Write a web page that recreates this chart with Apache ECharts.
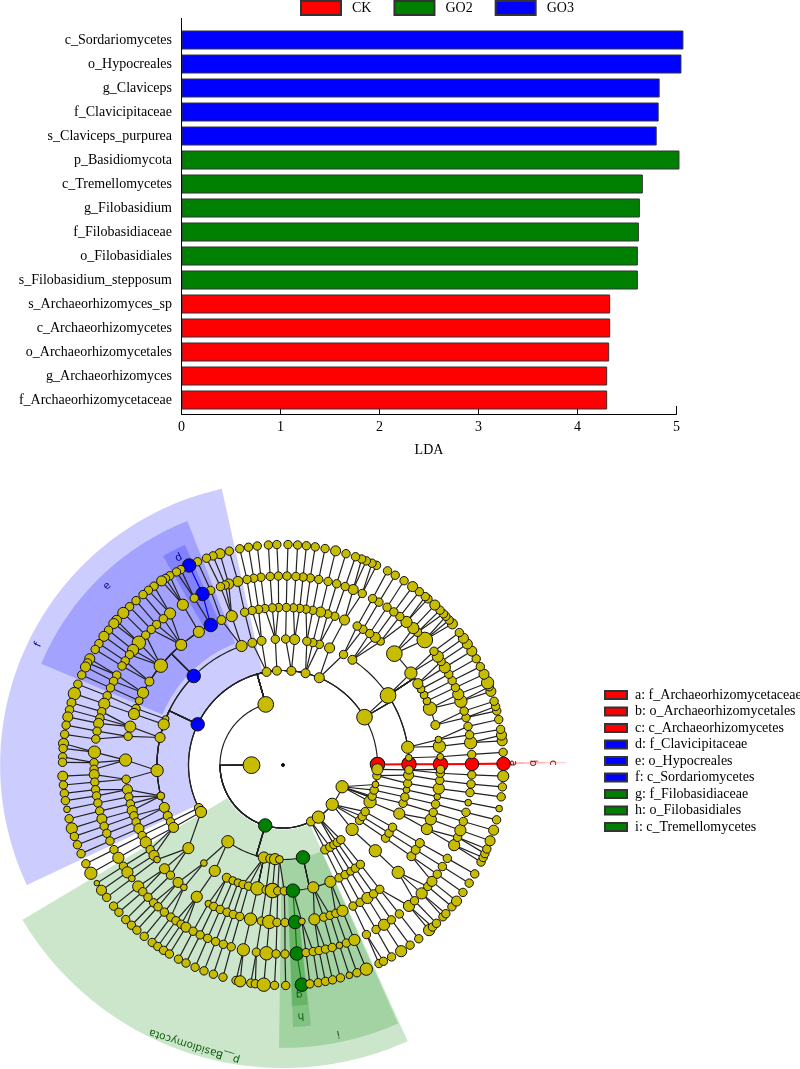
<!DOCTYPE html>
<html><head><meta charset="utf-8">
<style>html,body{margin:0;padding:0;background:#fff}#c{width:800px;height:1069px}</style>
<script src="https://cdn.jsdelivr.net/npm/echarts@6/dist/echarts.min.js"></script>
</head><body><div id="c"></div>
<script>
const categories=['c_Sordariomycetes','o_Hypocreales','g_Claviceps','f_Clavicipitaceae','s_Claviceps_purpurea','p_Basidiomycota','c_Tremellomycetes','g_Filobasidium','f_Filobasidiaceae','o_Filobasidiales','s_Filobasidium_stepposum','s_Archaeorhizomyces_sp','c_Archaeorhizomycetes','o_Archaeorhizomycetales','g_Archaeorhizomyces','f_Archaeorhizomycetaceae'];
const ldaGO3=[5.07,5.05,4.83,4.82,4.80,null,null,null,null,null,null,null,null,null,null,null];
const ldaGO2=[null,null,null,null,null,5.03,4.66,4.63,4.62,4.61,4.61,null,null,null,null,null];
const ldaCK=[null,null,null,null,null,null,null,null,null,null,null,4.33,4.33,4.32,4.30,4.30];
const xTicks=[0,1,2,3,4,5];
const biomarkers=['a: f_Archaeorhizomycetaceae','b: o_Archaeorhizomycetales','c: c_Archaeorhizomycetes','d: f_Clavicipitaceae','e: o_Hypocreales','f: c_Sordariomycetes','g: f_Filobasidiaceae','h: o_Filobasidiales','i: c_Tremellomycetes'];
const biomarkerColors=['#ff0000','#ff0000','#ff0000','#0000ff','#0000ff','#0000ff','#008000','#008000','#008000'];

// Cladogram nodes: angle (degrees) or [angle, diameter, parentAngle]
const ring1=[[180.3,15]];
const ring2=[[105.9,14,180.3],[253.6,12,180.3],[296.3,8,180.3],[304.2,11,180.3],[321.4,11,180.3],[339.8,11,180.3]];
const ring3=[[0.3,13,105.9],[30.4,14,105.9],[67.4,9,105.9],[76.2,8,105.9],[84.9,8,105.9],[93.7,8,105.9],[100,8,105.9],[154.5,12,105.9],[207,8,105.9],[209.8,10,105.9],[234.3,11,253.6],[258.3,10,253.6],[262.2,8,253.6],[265.2,10,253.6],[267.8,7,253.6],[282.2,12,253.6],[296.5,8],[299.9,8],302.6,305,307.7,[317,11],324.1,327,330.4,[337.1,11],340.7,344.6,[348.1,6],353.5,[357.4,10]];
const ring4=[[0.3,13],[3.3,6,30.4],[8.1,11,30.4],[33.5,14],[56.6,8,30.4],61.3,[68.3,9],73.2,76.3,79.1,[84.7,9],88.8,93.5,[99.8,8],[104.1,8],[109.2,10,154.5],[135.1,12,154.5],[158.6,6,154.5],[161.2,10,154.5],[167.4,9,154.5],[182.5,11,154.5],[194.2,7,154.5],[199.7,9,154.5],[203.8,8,154.5],206.8,[209.7,9],[221.3,10],[231.1,6],[237.2,10],[243.5,8,258.3],[246.5,7,258.3],[249.1,7,258.3],251.5,254.1,[258.3,12],262.3,[265.2,13],267.6,270.6,[274.5,12,282.2],[283.9,10,282.2],[292.1,10,282.2],296.4,299.5,[302.4,7],305,307.9,[317.1,11],324.5,327.3,330.4,[337.3,10],342.3,345.3,[348.6,6],351.6,[355.4,9],357.8];
const ring5=[[0.3,13],[3,6],[6.8,11],[9.3,6],[14.7,8,33.5],[21,12,33.5],[24,7,33.5],[26.4,7,33.5],[28.8,7,33.5],[31.1,9,33.5],[35.7,11],[45,14,33.5],[51.7,7],[54.1,9],56.6,59.5,61.9,[67,9],70.8,73.5,[76.2,9],79.1,81.6,83.9,86.2,88.8,91.6,93.9,96.6,98.9,101.3,104.1,[109,10],[113,8],[117.3,12,135.1],[122.3,10,135.1],[130.3,10,135.1],[140.9,12,135.1],[148,8,135.1],[152.7,10,135.1],[155.9,7,135.1],159,[161.1,10],[165.9,10],169.5,[178.2,11],185.2,[189,9],191.7,194.3,[196.8,9],198.8,201.2,[203.8,9],206.6,[209.4,10],212.5,[215,9],[216.9,6],[221.2,9],224.4,[228.2,9],[231,6],[236.8,10],[241.7,6],243.9,246.5,249.2,251.6,254.1,[258.1,11],262.1,[265,12],267.8,270.7,[274.4,12],[276.9,6],[281.5,10],285,287.4,289.6,[292.2,10],296.4,299.3,[302.4,10],305.1,307.9,[317,11],[324.6,8],[327.4,8],[330.3,8],[336,10],[339.8,10],342.5,345.6,[348.4,6],[351.4,10],354.4,357,358.4];
const ring6=[[0.3,12],3.2,[6.8,11],9.2,11.8,14.5,16.6,[19.7,11],[22,10],24.2,26.5,28.7,[31.1,10],33.2,[35,10],37,[41.4,14],44.6,[46.4,10],[49.2,10],51.8,54.1,56.6,59.5,61.7,65.2,[68.2,9],70.8,73.5,76.2,79.1,81.7,83.9,86.1,88.8,91.4,93.9,96.7,98.9,101,[103.8,9],[106.7,9],107.8,109.3,112.5,[115.2,12],118,[122,10],[126.7,10],129.3,132,134.2,136.6,[139.7,12],[142.5,10],144.3,146.6,148.4,151.6,153.7,155.9,158.5,[161.1,10],163.6,165.6,[167.3,9],169.7,172.1,[176.1,11],179.3,181.3,[182.9,9],185.2,187.5,189.4,191.6,194.1,[196.6,9],198.9,201.2,203.7,206.6,[209.4,10],212.4,[214.6,10],[216.9,6],[220,10],222.1,224.4,226.8,228.6,231.1,233.6,235.5,237.4,[239.1,9],241.6,244,246.5,249.1,251.6,254.1,[257.9,11],261.9,[265,12],267.9,270.6,[274.2,12],277,279.2,281,283,285.1,[287.4,6],289.6,[292.2,10],296.2,299.5,[302.3,10],305,308,[311.8,10],314.1,[317.2,10],320,[322,9],324.7,327.5,330.4,[334.9,10],337.5,[339.8,10],342.6,345.5,[348.5,6],351.6,354.2,357];
const ring7=[[0.3,12],3.3,[6.3,9],[7.8,9],9.3,11.9,14.2,15.4,16.8,[19.5,9],20.8,[21.9,11],[24.3,9],26.5,28.8,[31.1,9],[33.3,9],[35.1,9],36.9,[39.8,9],41.1,42.4,43.3,44.6,[46.5,9],48.9,49.8,51.8,[54,9],56.7,59.4,61.7,64.9,66.2,67.8,69.1,70.8,73.4,[76.2,9],79,81.6,83.9,86.2,88.7,91.6,93.8,96.7,99,101.3,104.1,[106.6,9],108.5,110.3,112.8,[115.2,12],117.6,118.9,120.9,122.2,[123.4,9],125.8,127.6,129.4,131.8,134.1,[136.4,10],[139,9],[140.1,9],142.3,[144.3,9],146.6,148.4,[151.2,9],152.4,[153.6,9],155.9,158.5,[161.1,11],[163.6,8],165.5,[167.4,9],169.6,172,[174.4,9],175.7,177.9,179.3,[182.9,9],185.2,187.4,189.3,[191.6,6],194.1,[196.7,10],198.9,201.2,203.7,206.6,[209.4,11],[212.4,5],[214.6,9],216.9,219.8,221.9,224.5,226.6,228.5,231,233.6,235.4,237.2,239,241.7,243.9,246.5,249,251.6,254.2,257.7,[258.8,10],261.6,262.8,[265,12],267.8,270.7,[274.9,12],277,279.2,281.1,283,285.1,[287.5,6],289.6,[292.2,11],295.8,297.1,299.5,[302.4,10],305.2,308,[311.5,10],312.7,314.1,316.5,317.6,320,[321.9,9],324.7,327.6,330.4,333.9,335.2,336.3,337.6,[339.9,9],[342.8,9],345.6,[348.6,6],351.7,354.3,[357.1,10]];
const rings=[ring1,ring2,ring3,ring4,ring5,ring6,ring7];

// Coloured paths: [level, angle]
const redPath=[[3,0.3],[4,0.3],[5,0.3],[6,0.3],[7,0.3]];
const bluePath=[[3,154.5],[4,135.1],[5,117.3],[6,115.2],[7,115.2]];
const greenPath=[[2,253.6],[3,282.2],[4,274.5],[5,274.4],[6,274.2],[7,274.9]];

// Clade sectors: inner level, outer level, from angle, to angle
const cladeNames=['p__Basidiomycota','f','e','d','i','h','g','c','b','a'];
const cladeInner=[2.05,3,4.15,5.1,3,4.1,5.1,3,4.1,5.1];
const cladeOuter=[9.62,8.98,8.32,7.65,8.98,8.32,7.65,8.98,8.32,7.65];
const cladeFrom=[210.7,102.5,111.4,114,269.2,272.2,272.1,0.35,0.35,0.35];
const cladeTo=[294.3,205.1,157.3,119.9,294,276.1,275.9,0.62,0.62,0.62];
const cladeFill=['rgba(0,128,0,.2)','rgba(0,0,255,.2)','rgba(0,0,255,.2)','rgba(0,0,255,.2)','rgba(0,128,0,.2)','rgba(0,128,0,.2)','rgba(0,128,0,.2)','rgba(255,0,0,.2)','rgba(255,0,0,.2)','rgba(255,0,0,.2)'];
const cladeLabelLevel=[9.36,8.66,7.97,7.36,8.7,7.99,7.3,8.57,7.94,7.3];
const cladeLabelAngle=[252.5,153.9,134.5,116.7,281.6,274.1,274,0.45,0.45,0.45];
const cladeLabelColor=['#0b5d0b','#00008b','#00008b','#00008b','#0b5d0b','#0b5d0b','#0b5d0b','#8b0000','#8b0000','#8b0000'];

const YELLOW='#c8bc00',COL=[YELLOW,'#ff0000','#0000ff','#008000','#000000'];
const angDiff=(a,b)=>{let d=Math.abs(a-b)%360;return d>180?360-d:d;};
const norm=n=>Array.isArray(n)?n:[n,7.5];
const matches=(path,l,a)=>path.findIndex(p=>p[0]===l&&p[1]===a)>=0;
const colorOf=(l,a)=>matches(redPath,l,a)?1:matches(bluePath,l,a)?2:matches(greenPath,l,a)?3:0;
const edgeStart={1:4,2:6,3:5};
const nodes=[[0,0,3,4]],edges=[];
rings.forEach((ring,i)=>{
  const l=i+1;
  ring.forEach(n=>{
    const [a,s,pa]=norm(n);
    const c=colorOf(l,a);
    nodes.push([l,a,s,c]);
    if(l===1)return;
    let parent=pa,over=pa!==undefined;
    if(!over){
      parent=rings[i-1].map(x=>norm(x)[0]).reduce((b,x)=>angDiff(x,a)<angDiff(b,a)?x:b);
    }
    const elbow=over||angDiff(parent,a)>12?1:0;
    const ec=(c&&colorOf(l-1,parent)===c&&l>=edgeStart[c])?c:0;
    edges.push([l,a,l-1,parent,elbow,ec]);
  });
});
const cladeData=cladeNames.map((_,i)=>[cladeInner[i],cladeFrom[i],cladeOuter[i],cladeTo[i],i]);

function renderEdge(p,api){
  const l=api.value(0),a=api.value(1),pl=api.value(2),pa=api.value(3),el=api.value(4),c=api.value(5);
  const pts=[api.coord([pl,pa])];
  if(el){
    pts.push(api.coord([l,pa]));
    let d=a-pa; if(d>180)d-=360; if(d<-180)d+=360;
    const n=Math.max(2,Math.ceil(Math.abs(d)/1.5));
    for(let k=1;k<=n;k++)pts.push(api.coord([l,pa+d*k/n]));
  } else pts.push(api.coord([l,a]));
  return {type:'polyline',shape:{points:pts},style:{fill:null,stroke:c?COL[c]:'#222',lineWidth:c===1?2:1.2}};
}
function renderClade(p,api){
  const r0=api.value(0),a0=api.value(1),r1=api.value(2),a1=api.value(3),i=api.value(4);
  const pts=[],n=Math.max(2,Math.ceil((a1-a0)));
  for(let k=0;k<=n;k++)pts.push(api.coord([r1,a0+(a1-a0)*k/n]));
  for(let k=n;k>=0;k--)pts.push(api.coord([r0,a0+(a1-a0)*k/n]));
  const lp=api.coord([cladeLabelLevel[i],cladeLabelAngle[i]]);
  return {type:'group',children:[
    {type:'polygon',shape:{points:pts},style:{fill:cladeFill[i],stroke:null}},
    {type:'text',x:lp[0],y:lp[1],rotation:(cladeLabelAngle[i]-90)*Math.PI/180,z2:5,
     style:{text:cladeNames[i],fill:cladeLabelColor[i],textAlign:'center',textVerticalAlign:'middle',font:'10.5px "DejaVu Sans"'}}
  ]};
}
const serif='"Liberation Serif"';
const barSeries=(name,data,color)=>({name,type:'bar',stack:'lda',data,barWidth:19,clip:false,xAxisIndex:0,yAxisIndex:0,silent:true,
  itemStyle:{color,borderColor:'#333',borderWidth:1},animation:false});
const chart=echarts.init(document.getElementById('c'),null,{renderer:'canvas'});
chart.setOption({
  animation:false,
  backgroundColor:'#fff',
  graphic:[{type:'line',shape:{x1:181.5,y1:18,x2:181.5,y2:414},style:{stroke:'#000',lineWidth:1},z:10}],
  legend:[
    {data:['CK','GO2','GO3'],left:300,top:0,padding:0,itemWidth:40,itemHeight:14,itemGap:22,selectedMode:false,icon:'rect',
     textStyle:{fontFamily:serif,fontSize:14,color:'#000',padding:[0,0,0,6]}},
    {data:biomarkers,orient:'vertical',left:604,top:688,padding:0,itemWidth:22,itemHeight:8,itemGap:2.5,selectedMode:false,icon:'rect',
     textStyle:{fontFamily:serif,fontSize:14,color:'#000',padding:[0,0,0,3]}}
  ],
  grid:{left:181.5,width:495,top:28,height:384,containLabel:false},
  xAxis:{type:'value',min:0,max:5,interval:1,offset:2,position:'bottom',name:'LDA',nameLocation:'middle',nameGap:29,
    nameTextStyle:{fontFamily:serif,fontSize:14,color:'#000'},
    axisLine:{show:true,lineStyle:{color:'#000',width:1}},axisTick:{show:true,inside:true,length:8,lineStyle:{color:'#000'}},
    axisLabel:{fontFamily:serif,fontSize:14,color:'#000',margin:6,customValues:xTicks},splitLine:{show:false}},
  yAxis:{type:'category',data:categories,inverse:true,axisLine:{show:false},axisTick:{show:false},
    axisLabel:{fontFamily:serif,fontSize:14,color:'#000',margin:9.5},splitLine:{show:false}},
  polar:{center:[283,765],radius:[0,315]},
  radiusAxis:{type:'value',min:0,max:10,show:false},
  angleAxis:{type:'value',min:0,max:360,startAngle:0,clockwise:false,show:false},
  series:[
    barSeries('GO3',ldaGO3,'#0000ff'),
    barSeries('GO2',ldaGO2,'#008000'),
    barSeries('CK',ldaCK,'#ff0000'),
    {type:'custom',coordinateSystem:'polar',data:cladeData,renderItem:renderClade,silent:true,z:1,clip:false},
    {type:'custom',coordinateSystem:'polar',data:edges,renderItem:renderEdge,silent:true,z:2,clip:false},
    {type:'scatter',coordinateSystem:'polar',data:nodes,silent:true,z:3,clip:false,
      symbolSize:v=>v[3]===4?v[2]:v[2]*1.12,
      itemStyle:{color:p=>COL[p.value[3]],borderColor:'#111',borderWidth:1,opacity:1}},
    ...biomarkers.map((n,i)=>({name:n,type:'scatter',coordinateSystem:'polar',data:[],silent:true,
      itemStyle:{color:biomarkerColors[i],borderColor:'#333',borderWidth:1,opacity:1}}))
  ]
});
</script></body></html>
